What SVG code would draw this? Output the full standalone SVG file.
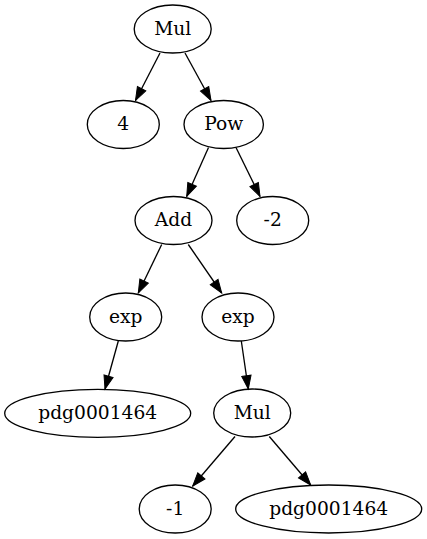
<svg xmlns="http://www.w3.org/2000/svg" width="427" height="539" viewBox="0 0 427 539">
<style>
.n ellipse{fill:none;stroke:#000;stroke-width:1.33}
.n text{font-family:"DejaVu Serif","Liberation Serif",serif;font-size:18.67px;text-anchor:middle;fill:#000}
#edges path{fill:none;stroke:#000;stroke-width:1.33}
</style>
<defs>
<marker id="a" markerUnits="userSpaceOnUse" markerWidth="16" markerHeight="12" viewBox="0 -6 14 12" refX="13.3" refY="0" orient="auto">
<path d="M0,-4.7L13.3,0L0,4.7Z" fill="#000" stroke="#000" stroke-width="1"/>
</marker>
</defs>
<rect width="427" height="539" fill="#fff"/>
<g id="edges">
<path d="M160,53L135.5,100.5" marker-end="url(#a)"/>
<path d="M185,53L211,100.5" marker-end="url(#a)"/>
<path d="M208.5,147.5L186.7,196.5" marker-end="url(#a)"/>
<path d="M236,147.5L260,196.5" marker-end="url(#a)"/>
<path d="M161.7,244.5L138.3,293" marker-end="url(#a)"/>
<path d="M188.3,244.5L221.7,293" marker-end="url(#a)"/>
<path d="M118.3,341L105,389" marker-end="url(#a)"/>
<path d="M241.3,341L248.3,389" marker-end="url(#a)"/>
<path d="M235,436.5L192.7,486" marker-end="url(#a)"/>
<path d="M269.3,436.5L310.7,485" marker-end="url(#a)"/>
</g>
<g id="mul1" class="n"><ellipse cx="172.7" cy="29" rx="38.5" ry="24"/><text x="172.7" y="34.5">Mul</text></g>
<g id="n4" class="n"><ellipse cx="123.3" cy="124.5" rx="36" ry="24"/><text x="123.3" y="130">4</text></g>
<g id="pow" class="n"><ellipse cx="223.7" cy="124.5" rx="39.7" ry="24"/><text x="223.7" y="130">Pow</text></g>
<g id="add" class="n"><ellipse cx="173.5" cy="220.5" rx="38.5" ry="24"/><text x="173.5" y="226">Add</text></g>
<g id="m2" class="n"><ellipse cx="272.7" cy="220.5" rx="36" ry="24"/><text x="272.7" y="226">-2</text></g>
<g id="exp1" class="n"><ellipse cx="125.7" cy="317" rx="36" ry="24"/><text x="125.7" y="322.5">exp</text></g>
<g id="exp2" class="n"><ellipse cx="238" cy="317" rx="36" ry="24"/><text x="238" y="322.5">exp</text></g>
<g id="pdg1" class="n"><ellipse cx="97.7" cy="413.3" rx="93" ry="24"/><text x="97.7" y="418.8">pdg0001464</text></g>
<g id="mul2" class="n"><ellipse cx="252.2" cy="413" rx="38.5" ry="24"/><text x="252.2" y="418.5">Mul</text></g>
<g id="m1" class="n"><ellipse cx="175.2" cy="509" rx="36" ry="24"/><text x="175.2" y="514.5">-1</text></g>
<g id="pdg2" class="n"><ellipse cx="328.7" cy="509" rx="93" ry="24"/><text x="328.7" y="514.5">pdg0001464</text></g>
</svg>
